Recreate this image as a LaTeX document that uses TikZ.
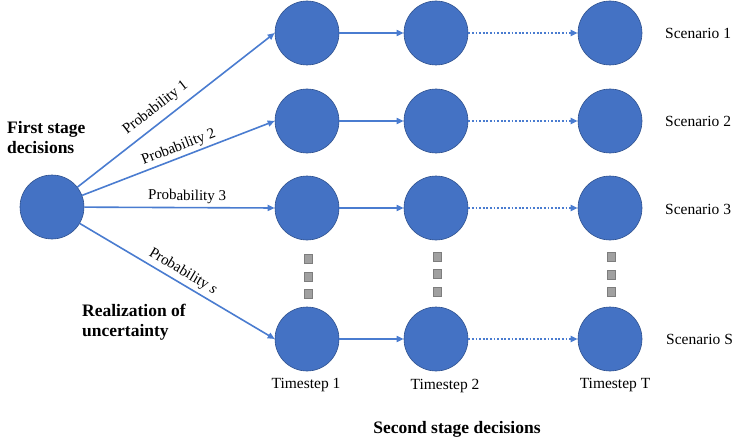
\documentclass[tikz,border=0pt]{standalone}
\usepackage{fontspec}
\setmainfont{Liberation Serif}
\usetikzlibrary{arrows.meta}
\definecolor{cblue}{RGB}{68,114,196}
\definecolor{cedge}{RGB}{47,82,143}
\definecolor{lblue}{RGB}{74,124,208}
\definecolor{sqfill}{RGB}{160,160,160}
\definecolor{sqedge}{RGB}{125,125,125}
\tikzset{
  state/.style={circle, minimum size=64pt, inner sep=0pt, fill=cblue, draw=cedge, line width=0.6pt},
  link/.style={draw=lblue, line width=1.6pt, -{Triangle[length=7pt,width=6pt]}},
  dotlink/.style={draw=lblue, line width=1.8pt, dash pattern=on 1.8pt off 1.8pt, -{Triangle[length=7pt,width=6pt]}},
  plabel/.style={font=\fontsize{15}{17}\selectfont, text=black, inner sep=0.5pt},
  txt/.style={font=\fontsize{15.5}{18}\selectfont, inner sep=0pt},
  bold/.style={font=\fontsize{17.5}{20}\selectfont\bfseries, align=left, inner sep=0pt},
  sq/.style={rectangle, minimum width=8pt, minimum height=9pt, inner sep=0pt, fill=sqfill, draw=sqedge, line width=0.6pt}
}
\begin{document}
\begin{tikzpicture}[x=1pt,y=-1pt]
\useasboundingbox (0,0) rectangle (737,444);
% nodes
\node[state] (root) at (52,207) {};
\node[state] (a1) at (307,33) {};
\node[state] (a2) at (436,33) {};
\node[state] (aT) at (610,33) {};
\node[state] (b1) at (307,121) {};
\node[state] (b2) at (436,121) {};
\node[state] (bT) at (610,121) {};
\node[state] (c1) at (307,208) {};
\node[state] (c2) at (436,208) {};
\node[state] (cT) at (610,208) {};
\node[state] (d1) at (307,339) {};
\node[state] (d2) at (436,339) {};
\node[state] (dT) at (610,339) {};
% first stage arrows
\draw[link] (root) -- node[plabel, pos=0.44, above=6pt, sloped] {Probability 1} (a1.west);
\draw[link] (root) -- node[plabel, pos=0.52, above=2pt, sloped] {Probability 2} (b1.west);
\draw[link] (root) -- node[plabel, pos=0.54, above=3pt, sloped] {Probability 3} (c1.west);
\draw[link] (root) -- node[plabel, pos=0.5, above=3pt, sloped] {Probability \textit{s}} (d1.west);
% horizontal arrows
\draw[link] (a1) -- (a2);
\draw[link] (b1) -- (b2);
\draw[link] (c1) -- (c2);
\draw[link] (d1) -- (d2);
\draw[dotlink] (a2) -- (aT);
\draw[dotlink] (b2) -- (bT);
\draw[dotlink] (c2) -- (cT);
\draw[dotlink] (d2) -- (dT);
% gray squares
\node[sq] (s11) at (308,259) {};
\node[sq] (s12) at (308,277) {};
\node[sq] (s13) at (308,294) {};
\node[sq] (s21) at (437,257) {};
\node[sq] (s22) at (437,274) {};
\node[sq] (s23) at (437,292) {};
\node[sq] (s31) at (611,257) {};
\node[sq] (s32) at (611,275) {};
\node[sq] (s33) at (611,292) {};
% labels
\node[bold, anchor=west] (fsd) at (7,138) {First stage\\decisions};
\node[bold, anchor=west] (rou) at (82,322) {Realization of\\uncertainty};
\node[txt, anchor=west] (sc1) at (665,33) {Scenario 1};
\node[txt, anchor=west] (sc2) at (665,121) {Scenario 2};
\node[txt, anchor=west] (sc3) at (665,209) {Scenario 3};
\node[txt, anchor=west] (scS) at (666,339) {Scenario S};
\node[txt] (t1) at (306,385) {Timestep 1};
\node[txt] (t2) at (445,386) {Timestep 2};
\node[txt] (tT) at (615,385) {Timestep T};
\node[bold] (ssd) at (457,429) {Second stage decisions};
\end{tikzpicture}
\end{document}
